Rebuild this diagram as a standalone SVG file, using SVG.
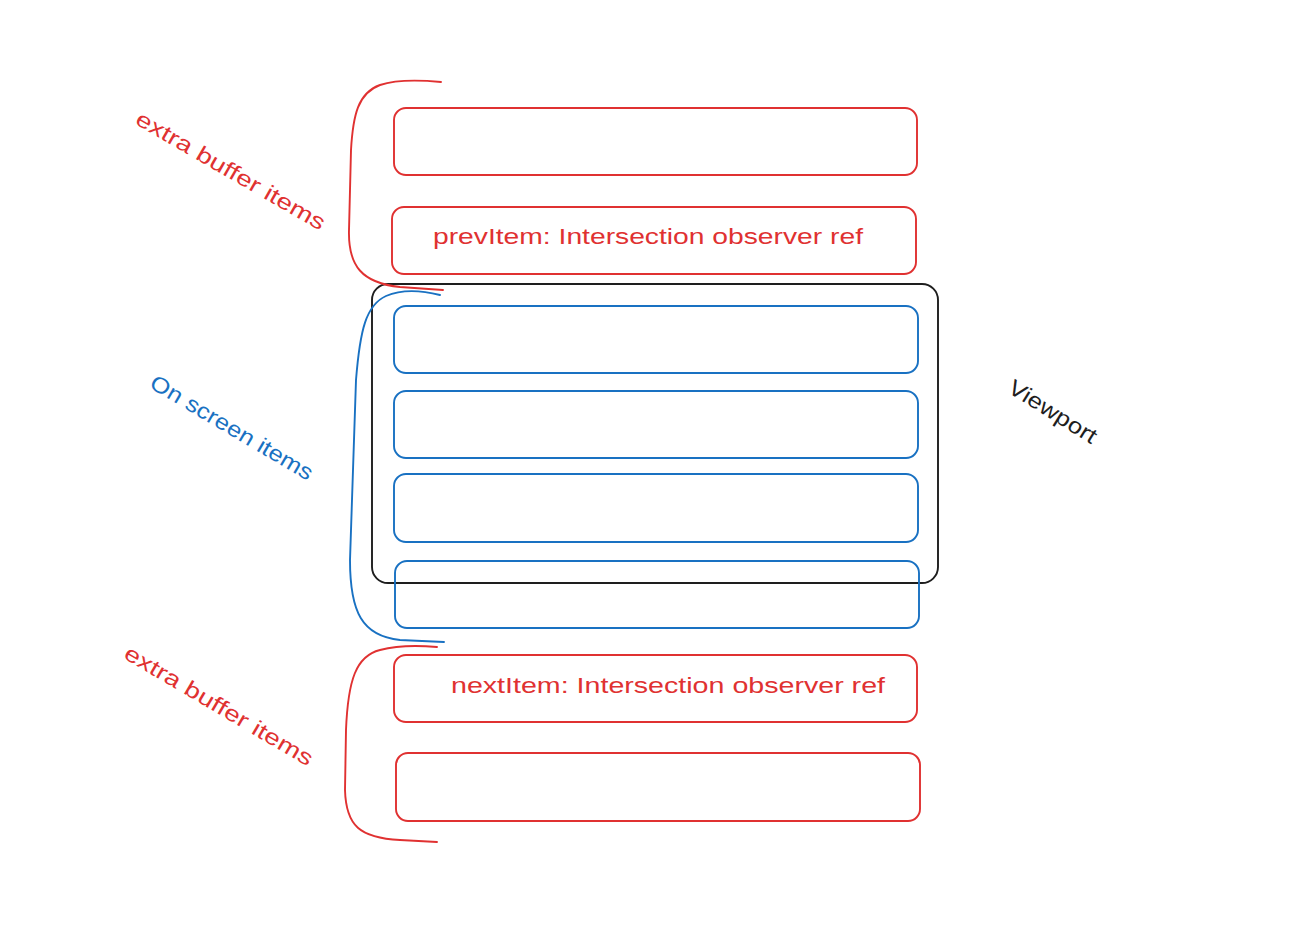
<svg xmlns="http://www.w3.org/2000/svg" width="1295" height="931" viewBox="0 0 1295 931">
<style>
.red{fill:none;stroke:#e03131;stroke-width:1.9;stroke-linecap:round}
.blue{fill:none;stroke:#1971c2;stroke-width:1.9;stroke-linecap:round}
.blk{fill:none;stroke:#1e1e1e;stroke-width:1.9}
.t{font-family:"Liberation Sans","DejaVu Sans",sans-serif;font-size:22px}
.tr{fill:#e03131}.tb{fill:#1971c2}.tk{fill:#1e1e1e}
</style>
<rect width="1295" height="931" fill="#ffffff"/>
<g id="viewport"><rect class="blk" x="372" y="284" width="566" height="299" rx="16"/></g>
<g id="buf1"><rect class="red" x="394" y="108" width="523" height="67" rx="12"/></g>
<g id="prevItem"><rect class="red" x="392" y="207" width="524" height="67" rx="12"/>
<text class="t tr" x="433" y="244" textLength="430" lengthAdjust="spacingAndGlyphs">prevItem: Intersection observer ref</text></g>
<g id="item1"><rect class="blue" x="394" y="306" width="524" height="67" rx="12"/></g>
<g id="item2"><rect class="blue" x="394" y="391" width="524" height="67" rx="12"/></g>
<g id="item3"><rect class="blue" x="394" y="474" width="524" height="68" rx="12"/></g>
<g id="item4"><rect class="blue" x="395" y="561" width="524" height="67" rx="12"/></g>
<g id="nextItem"><rect class="red" x="394" y="655" width="523" height="67" rx="12"/>
<text class="t tr" x="451" y="693" textLength="434" lengthAdjust="spacingAndGlyphs">nextItem: Intersection observer ref</text></g>
<g id="buf2"><rect class="red" x="396" y="753" width="524" height="68" rx="12"/></g>
<g id="connectors">
<path class="red" d="M441,82 C420,80 395,80 380,85 C358,93 353,115 351,150 L349,230 C348,266 362,283 400,287 L443,290"/>
<path class="blue" d="M440,295 C420,290 400,290 386,296 C366,305 360,330 356,380 L350,560 C350,612 362,636 400,640 L444,642"/>
<path class="red" d="M437,647 C415,645 395,646 380,650 C356,656 348,680 346,730 L345,790 C346,826 360,838 400,840 L437,842"/>
</g>
<g id="labels">
<text class="t tr" transform="translate(230,172) rotate(30)" text-anchor="middle" dominant-baseline="middle" textLength="215" lengthAdjust="spacingAndGlyphs">extra buffer items</text>
<text class="t tb" transform="translate(231,429) rotate(30.5)" text-anchor="middle" dominant-baseline="middle" textLength="185" lengthAdjust="spacingAndGlyphs">On screen items</text>
<text class="t tr" transform="translate(218,707) rotate(30.5)" text-anchor="middle" dominant-baseline="middle" textLength="215" lengthAdjust="spacingAndGlyphs">extra buffer items</text>
<text class="t tk" transform="translate(1052,413) rotate(32)" text-anchor="middle" dominant-baseline="middle" textLength="100" lengthAdjust="spacingAndGlyphs">Viewport</text>
</g>
</svg>
